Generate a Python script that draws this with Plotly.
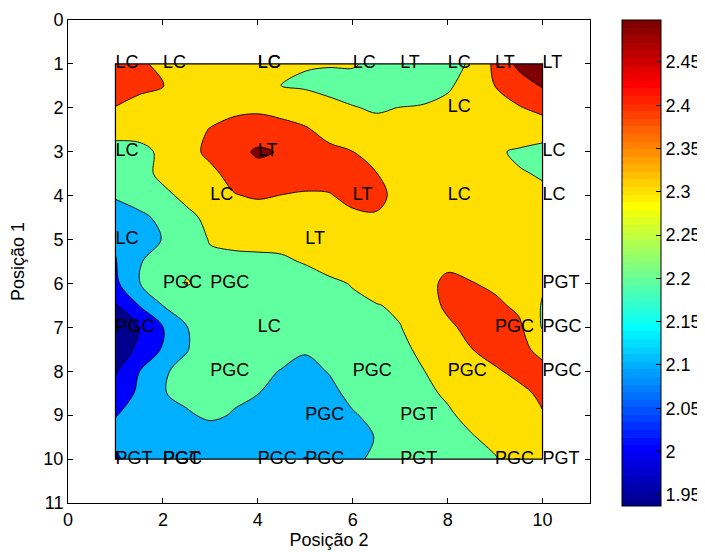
import plotly.graph_objects as go

# ---------------- data ----------------
x_vals = [1, 1.5, 2, 2.5, 3, 3.5, 4, 4.5, 5, 5.5, 6, 6.5, 7, 7.5, 8, 8.5, 9, 9.5, 10]
y_vals = [1, 1.5, 2, 2.5, 3, 3.5, 4, 4.5, 5, 5.5, 6, 6.5, 7, 7.5, 8, 8.5, 9, 9.5, 10]

z_rows = [
    [2.44, 2.42, 2.37, 2.34, 2.33, 2.33, 2.32, 2.31, 2.305, 2.304, 2.31, 2.275, 2.25, 2.26, 2.27, 2.31, 2.42, 2.485, 2.495],
    [2.43, 2.42, 2.402, 2.35, 2.33, 2.32, 2.31, 2.299, 2.29, 2.28, 2.26, 2.24, 2.24, 2.25, 2.29, 2.33, 2.401, 2.44, 2.475],
    [2.398, 2.37, 2.35, 2.35, 2.36, 2.38, 2.385, 2.37, 2.35, 2.32, 2.305, 2.29, 2.302, 2.31, 2.32, 2.33, 2.36, 2.395, 2.42],
    [2.33, 2.32, 2.33, 2.36, 2.405, 2.43, 2.44, 2.43, 2.41, 2.37, 2.34, 2.33, 2.33, 2.33, 2.34, 2.34, 2.34, 2.35, 2.36],
    [2.27, 2.285, 2.31, 2.37, 2.42, 2.45, 2.478, 2.466, 2.44, 2.42, 2.401, 2.36, 2.34, 2.33, 2.32, 2.31, 2.31, 2.29, 2.26],
    [2.25, 2.27, 2.32, 2.35, 2.38, 2.43, 2.45, 2.45, 2.44, 2.43, 2.42, 2.402, 2.36, 2.34, 2.33, 2.325, 2.32, 2.305, 2.295],
    [2.21, 2.24, 2.28, 2.32, 2.35, 2.395, 2.41, 2.398, 2.39, 2.395, 2.42, 2.425, 2.37, 2.35, 2.34, 2.335, 2.33, 2.32, 2.31],
    [2.15, 2.18, 2.22, 2.28, 2.32, 2.34, 2.35, 2.35, 2.35, 2.36, 2.385, 2.39, 2.36, 2.34, 2.33, 2.33, 2.32, 2.32, 2.315],
    [2.11, 2.14, 2.205, 2.26, 2.305, 2.315, 2.32, 2.32, 2.33, 2.34, 2.35, 2.36, 2.35, 2.34, 2.335, 2.33, 2.33, 2.325, 2.32],
    [2.095, 2.195, 2.23, 2.28, 2.285, 2.285, 2.285, 2.29, 2.305, 2.32, 2.33, 2.34, 2.345, 2.35, 2.39, 2.36, 2.35, 2.34, 2.33],
    [2.08, 2.198, 2.24, 2.306, 2.27, 2.26, 2.255, 2.26, 2.27, 2.29, 2.303, 2.33, 2.35, 2.385, 2.41, 2.405, 2.38, 2.34, 2.31],
    [1.995, 2.102, 2.201, 2.24, 2.26, 2.265, 2.27, 2.27, 2.275, 2.28, 2.29, 2.297, 2.31, 2.35, 2.42, 2.44, 2.42, 2.38, 2.293],
    [1.94, 2.002, 2.099, 2.198, 2.23, 2.245, 2.25, 2.255, 2.26, 2.27, 2.28, 2.29, 2.298, 2.33, 2.38, 2.43, 2.44, 2.42, 2.293],
    [1.945, 2.02, 2.11, 2.198, 2.22, 2.23, 2.225, 2.215, 2.21, 2.225, 2.25, 2.27, 2.29, 2.31, 2.35, 2.398, 2.43, 2.43, 2.37],
    [1.99, 2.099, 2.196, 2.21, 2.22, 2.22, 2.21, 2.198, 2.17, 2.205, 2.24, 2.26, 2.28, 2.299, 2.33, 2.36, 2.39, 2.42, 2.43],
    [2.03, 2.12, 2.197, 2.215, 2.21, 2.21, 2.202, 2.16, 2.14, 2.17, 2.23, 2.25, 2.27, 2.285, 2.31, 2.33, 2.35, 2.38, 2.415],
    [2.098, 2.14, 2.17, 2.193, 2.21, 2.196, 2.17, 2.13, 2.12, 2.14, 2.19, 2.23, 2.25, 2.27, 2.29, 2.32, 2.34, 2.36, 2.395],
    [2.115, 2.13, 2.15, 2.16, 2.17, 2.165, 2.15, 2.13, 2.12, 2.13, 2.16, 2.205, 2.23, 2.24, 2.26, 2.295, 2.32, 2.34, 2.36],
    [2.09, 2.13, 2.15, 2.155, 2.16, 2.155, 2.14, 2.115, 2.098, 2.115, 2.18, 2.22, 2.23, 2.24, 2.255, 2.275, 2.295, 2.33, 2.345],
]

# contour levels
level_start = 2.0
level_end = 2.4
level_step = 0.1
top_level = 2.47

# colour axis limits and colorbar ticks
c_min = 1.937
c_max = 2.4985
cbar_ticks = [1.95, 2.0, 2.05, 2.1, 2.15, 2.2, 2.25, 2.3, 2.35, 2.4, 2.45]
cbar_ticktext = ["1.95", "2", "2.05", "2.1", "2.15", "2.2", "2.25", "2.3", "2.35", "2.4", "2.45"]

# point labels
label_x = [1, 2, 4, 4, 6, 7, 8, 9, 10,
           8,
           1, 4, 10,
           3, 6, 8, 10,
           1, 5,
           2, 3, 10,
           1, 4, 9, 10,
           3, 6, 8, 10,
           5, 7,
           1, 2, 2, 4, 5, 7, 9, 10]
label_y = [1, 1, 1, 1, 1, 1, 1, 1, 1,
           2,
           3, 3, 3,
           4, 4, 4, 4,
           5, 5,
           6, 6, 6,
           7, 7, 7, 7,
           8, 8, 8, 8,
           9, 9,
           10, 10, 10, 10, 10, 10, 10, 10]
label_text = ["LC", "LC", "LC", "LC", "LC", "LT", "LC", "LT", "LT",
              "LC",
              "LC", "LT", "LC",
              "LC", "LT", "LC", "LC",
              "LC", "LT",
              "PGC", "PGC", "PGT",
              "PGC", "LC", "PGC", "PGC",
              "PGC", "PGC", "PGC", "PGC",
              "PGC", "PGT",
              "PGT", "PGC", "PGT", "PGC", "PGC", "PGT", "PGC", "PGT"]

x_ticks = [0, 2, 4, 6, 8, 10]
y_ticks = [0, 1, 2, 3, 4, 5, 6, 7, 8, 9, 10, 11]


# ---------------- jet colormap (MATLAB, 64 entries) ----------------
def jet64():
    n = 16
    u = [i / n for i in range(1, n + 1)] + [1.0] * (n - 1) + [i / n for i in range(n, 0, -1)]
    L = len(u)

    def pick(k):
        return u[k - 1] if 1 <= k <= L else 0.0

    cols = []
    for i in range(1, 65):
        r, g, b = pick(i - 24), pick(i - 8), pick(i + 8)
        cols.append("rgb(%d,%d,%d)" % (round(r * 255), round(g * 255), round(b * 255)))
    return cols


JET = jet64()


def jet_color(v):
    idx = int((v - c_min) / (c_max - c_min) * 64)
    idx = max(0, min(63, idx))
    return JET[idx]


jet_scale = []
for i, c in enumerate(JET):
    jet_scale.append([i / 64, c])
    jet_scale.append([(i + 1) / 64, c])

# band colours (MATLAB-style: colour of lower level)
levels = []
v = level_start
while v <= level_end + 1e-9:
    levels.append(round(v, 6))
    v += level_step
band_lows = [c_min] + levels
nc = len(levels)
band_scale = []
for k, lo_val in enumerate(band_lows):
    col = jet_color(lo_val)
    lo = max(0.0, (k - 0.5) / nc)
    hi = min(1.0, (k + 0.5) / nc)
    band_scale.append([lo, col])
    band_scale.append([hi, col])

top_col = jet_color(c_max)
top_scale = [[0, "rgba(0,0,0,0)"], [0.5, "rgba(0,0,0,0)"], [0.5, top_col], [1, top_col]]

FONT = "Arial, Liberation Sans, sans-serif"
FS = 18

# plot-area geometry (pixels, figure coords; page body adds an 8px offset)
ML, MR, MT, MB = 60, 123, 12, 57
PW = 705 - ML - MR
PH = 552 - MT - MB

fig = go.Figure()

fig.add_trace(go.Contour(
    x=x_vals, y=y_vals, z=z_rows,
    autocontour=False,
    contours=dict(start=level_start, end=level_end, size=level_step, coloring="fill"),
    colorscale=band_scale, showscale=False,
    line=dict(color="black", width=0.9, smoothing=1.0),
    hoverinfo="skip",
))

fig.add_trace(go.Contour(
    x=x_vals, y=y_vals, z=z_rows,
    autocontour=False,
    contours=dict(start=top_level, end=top_level, size=level_step, coloring="fill"),
    colorscale=top_scale, showscale=False,
    line=dict(color="black", width=0.9, smoothing=1.0),
    hoverinfo="skip",
))

# colorbar (jet, 64 steps)
fig.add_trace(go.Scatter(
    x=[x_vals[0]], y=[y_vals[0]], mode="markers",
    marker=dict(size=0, opacity=0, color=[c_min], colorscale=jet_scale,
                cmin=c_min, cmax=c_max, showscale=True,
                colorbar=dict(
                    x=(614 - ML) / PW, xanchor="left",
                    y=1 - ((12 + 498) / 2 - MT) / PH, yanchor="middle",
                    len=486, lenmode="pixels",
                    thickness=39, thicknessmode="pixels",
                    outlinecolor="black", outlinewidth=1,
                    ticks="inside", ticklen=5, tickcolor="black",
                    tickvals=cbar_ticks, ticktext=cbar_ticktext,
                    tickfont=dict(family=FONT, size=FS, color="black"),
                    xpad=0, ypad=0,
                )),
    hoverinfo="skip", showlegend=False,
))

fig.add_trace(go.Scatter(
    x=label_x, y=label_y, text=label_text, mode="text",
    textposition="middle right",
    textfont=dict(family=FONT, size=FS, color="black"),
    hoverinfo="skip", showlegend=False, cliponaxis=False,
))

fig.add_shape(type="rect", xref="x", yref="y",
              x0=min(x_vals), x1=max(x_vals), y0=min(y_vals), y1=max(y_vals),
              line=dict(color="black", width=1.2), fillcolor="rgba(0,0,0,0)")

axis_common = dict(
    showline=True, linecolor="black", linewidth=1, mirror="ticks",
    ticks="inside", ticklen=5, tickcolor="black",
    showgrid=False, zeroline=False,
    tickfont=dict(family=FONT, size=FS, color="black"),
)

fig.update_layout(
    width=705, height=552,
    margin=dict(l=ML, r=MR, t=MT, b=MB, autoexpand=False),
    paper_bgcolor="white", plot_bgcolor="white",
    showlegend=False,
    font=dict(family=FONT, size=FS, color="black"),
    xaxis=dict(range=[0, 11], tickvals=x_ticks,
               title=dict(text="Posição 2", font=dict(family=FONT, size=FS), standoff=4),
               **axis_common),
    yaxis=dict(range=[11, 0], tickvals=y_ticks,
               title=dict(text="Posição 1", font=dict(family=FONT, size=FS), standoff=22),
               **axis_common),
)

fig.write_html("out.html")
